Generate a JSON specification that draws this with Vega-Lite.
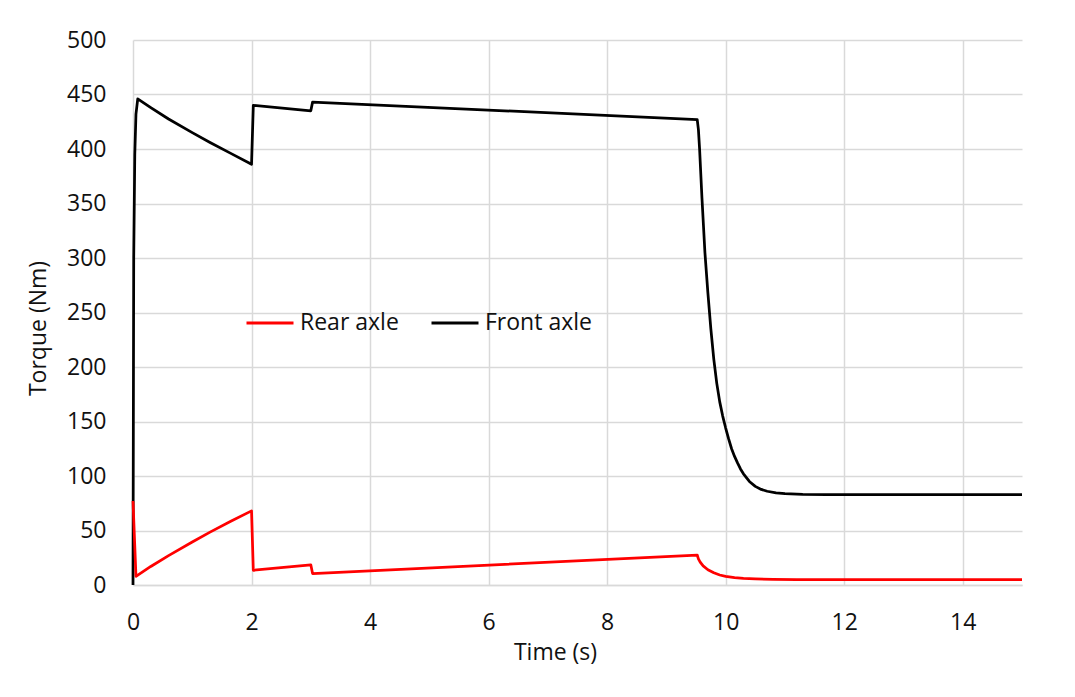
{
  "$schema": "https://vega.github.io/schema/vega-lite/v6.json",
  "width": 889,
  "height": 545,
  "autosize": {"type": "none"},
  "padding": {"left": 133, "top": 40, "right": 53, "bottom": 112},
  "background": "white",
  "config": {
    "view": {"stroke": null},
    "font": "Open Sans",
    "axis": {
      "gridColor": "#d9d9d9",
      "gridWidth": 1.5,
      "ticks": false,
      "labelFont": "Open Sans",
      "labelFontSize": 23,
      "labelColor": "#111111",
      "titleFont": "Open Sans",
      "titleFontSize": 23,
      "titleFontWeight": "normal",
      "titleColor": "#111111"
    }
  },
  "data": {
    "values": [
      {"series": "Front axle", "t": 0, "v": 0},
      {"series": "Front axle", "t": 0.012, "v": 300},
      {"series": "Front axle", "t": 0.03, "v": 395},
      {"series": "Front axle", "t": 0.05, "v": 432},
      {"series": "Front axle", "t": 0.08, "v": 446},
      {"series": "Front axle", "t": 0.3, "v": 438},
      {"series": "Front axle", "t": 0.6, "v": 427.5},
      {"series": "Front axle", "t": 1.0, "v": 415},
      {"series": "Front axle", "t": 1.3, "v": 406},
      {"series": "Front axle", "t": 1.65, "v": 396},
      {"series": "Front axle", "t": 2.0, "v": 386},
      {"series": "Front axle", "t": 2.03, "v": 440},
      {"series": "Front axle", "t": 3.0, "v": 435},
      {"series": "Front axle", "t": 3.03, "v": 443},
      {"series": "Front axle", "t": 9.52, "v": 427},
      {"series": "Front axle", "t": 9.54, "v": 418},
      {"series": "Front axle", "t": 9.56, "v": 400},
      {"series": "Front axle", "t": 9.6, "v": 355},
      {"series": "Front axle", "t": 9.65, "v": 305},
      {"series": "Front axle", "t": 9.7, "v": 268},
      {"series": "Front axle", "t": 9.75, "v": 235},
      {"series": "Front axle", "t": 9.8, "v": 207},
      {"series": "Front axle", "t": 9.85, "v": 185},
      {"series": "Front axle", "t": 9.9, "v": 168},
      {"series": "Front axle", "t": 9.95, "v": 155},
      {"series": "Front axle", "t": 10.0, "v": 144},
      {"series": "Front axle", "t": 10.05, "v": 134},
      {"series": "Front axle", "t": 10.1, "v": 125},
      {"series": "Front axle", "t": 10.15, "v": 118},
      {"series": "Front axle", "t": 10.2, "v": 112},
      {"series": "Front axle", "t": 10.25, "v": 106.5},
      {"series": "Front axle", "t": 10.3, "v": 102},
      {"series": "Front axle", "t": 10.4, "v": 95},
      {"series": "Front axle", "t": 10.5, "v": 90.5},
      {"series": "Front axle", "t": 10.6, "v": 87.7},
      {"series": "Front axle", "t": 10.7, "v": 86},
      {"series": "Front axle", "t": 10.85, "v": 84.6},
      {"series": "Front axle", "t": 11.0, "v": 83.8},
      {"series": "Front axle", "t": 11.3, "v": 83.2},
      {"series": "Front axle", "t": 11.7, "v": 83},
      {"series": "Front axle", "t": 15, "v": 83},
      {"series": "Rear axle", "t": 0, "v": 77},
      {"series": "Rear axle", "t": 0.05, "v": 8},
      {"series": "Rear axle", "t": 0.3, "v": 17},
      {"series": "Rear axle", "t": 0.6, "v": 27},
      {"series": "Rear axle", "t": 1.0, "v": 39.5},
      {"series": "Rear axle", "t": 1.3, "v": 48.5},
      {"series": "Rear axle", "t": 1.65, "v": 58.5},
      {"series": "Rear axle", "t": 2.0, "v": 68},
      {"series": "Rear axle", "t": 2.03, "v": 13.5},
      {"series": "Rear axle", "t": 3.0, "v": 18.5},
      {"series": "Rear axle", "t": 3.03, "v": 10.5},
      {"series": "Rear axle", "t": 9.52, "v": 27.5},
      {"series": "Rear axle", "t": 9.54, "v": 24},
      {"series": "Rear axle", "t": 9.57, "v": 21},
      {"series": "Rear axle", "t": 9.62, "v": 17.5},
      {"series": "Rear axle", "t": 9.7, "v": 14},
      {"series": "Rear axle", "t": 9.8, "v": 11.2},
      {"series": "Rear axle", "t": 9.9, "v": 9.2},
      {"series": "Rear axle", "t": 10.0, "v": 7.9},
      {"series": "Rear axle", "t": 10.15, "v": 6.8},
      {"series": "Rear axle", "t": 10.3, "v": 6.1},
      {"series": "Rear axle", "t": 10.5, "v": 5.6},
      {"series": "Rear axle", "t": 10.8, "v": 5.2},
      {"series": "Rear axle", "t": 11.2, "v": 5},
      {"series": "Rear axle", "t": 15, "v": 5}
    ]
  },
  "mark": {"type": "line", "strokeWidth": 2.75, "strokeJoin": "round", "interpolate": "linear"},
  "encoding": {
    "x": {
      "field": "t",
      "type": "quantitative",
      "scale": {"domain": [0, 15], "nice": false, "zero": false},
      "axis": {
        "title": "Time (s)",
        "values": [0, 2, 4, 6, 8, 10, 12, 14],
        "labelPadding": 37,
        "labelBaseline": "middle",
        "labelFlush": false,
        "domain": true,
        "domainColor": "#d9d9d9",
        "domainWidth": 1.5,
        "titleX": 422,
        "titleY": 67,
        "titleBaseline": "middle",
        "titleAnchor": "middle"
      }
    },
    "y": {
      "field": "v",
      "type": "quantitative",
      "scale": {"domain": [0, 500], "nice": false},
      "axis": {
        "title": "Torque (Nm)",
        "values": [0, 50, 100, 150, 200, 250, 300, 350, 400, 450, 500],
        "labelPadding": 27,
        "labelFlush": false,
        "domain": false,
        "titleX": -95,
        "titleY": 288,
        "titleBaseline": "middle",
        "titleAnchor": "middle"
      }
    },
    "color": {
      "field": "series",
      "type": "nominal",
      "scale": {"domain": ["Rear axle", "Front axle"], "range": ["#ff0000", "#000000"]},
      "legend": {
        "title": null,
        "orient": "none",
        "direction": "horizontal",
        "legendX": 112,
        "legendY": 258,
        "padding": 0,
        "symbolType": "stroke",
        "symbolSize": 2209,
        "symbolStrokeWidth": 3,
        "labelFont": "Open Sans",
        "labelFontSize": 23,
        "labelColor": "#111111",
        "labelOffset": 5,
        "columnPadding": 26
      }
    }
  }
}
